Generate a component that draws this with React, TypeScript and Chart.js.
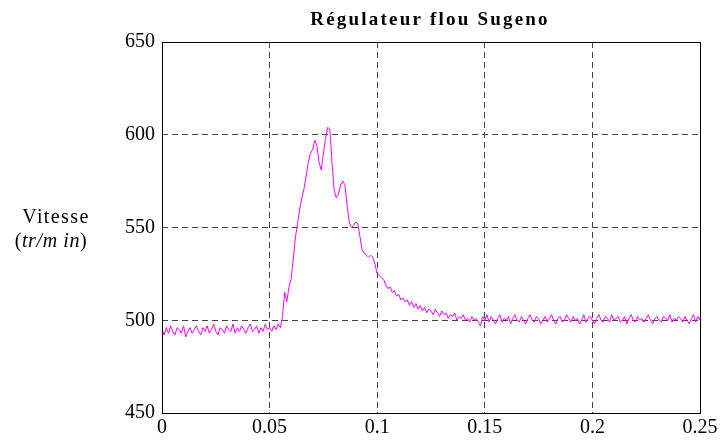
import React, { useEffect, useRef } from "react";
import { Chart, registerables } from "chart.js";

Chart.register(...registerables);

const titleText = "Régulateur flou Sugeno";
const yLabelLine1 = "Vitesse";
const xTickValues = [0, 0.05, 0.1, 0.15, 0.2, 0.25];
const xTickLabels = ["0", "0.05", "0.1", "0.15", "0.2", "0.25"];
const yTickValues = [450, 500, 550, 600, 650];
const yTickLabels = ["450", "500", "550", "600", "650"];

const timeStep = 0.001;
const speedValues = [
  495, 492, 496, 493, 497, 494, 492, 496, 495, 493,
  497, 491, 494, 496, 493, 495, 497, 494, 492, 496,
  494, 497, 493, 495, 498, 494, 492, 496, 495, 493,
  497, 495, 494, 498, 493, 496, 494, 497, 495, 493,
  496, 498, 494, 495, 497, 493, 496, 494, 498, 495,
  496, 494, 497, 495, 498, 496, 502, 515, 510, 518,
  522, 533, 545, 552, 560, 566, 571, 578, 585, 590,
  592, 597, 594, 585, 581, 590, 598, 604, 603, 585,
  570, 566, 568, 573, 575, 573, 562, 553, 550, 551,
  553, 552, 545, 538, 536, 535, 534, 535, 534, 530,
  525, 524, 523, 522, 519, 517, 518, 515, 516, 513,
  514, 511, 512, 510, 511, 508, 510, 507, 509, 506,
  508, 505, 507, 504, 506, 505, 503, 506, 504, 502,
  505, 503, 504, 501, 503, 502, 504, 500, 502, 501,
  503, 500, 501, 499, 502, 500, 501, 499, 497, 502,
  500, 503, 499, 502, 500, 498, 501, 503, 499, 501,
  500, 502, 498, 501, 503, 500, 499, 502, 500, 498,
  501, 503, 500, 499, 502, 501, 498, 500, 502, 499,
  501, 503, 500, 498, 501, 502, 499, 500, 503, 501,
  499, 502, 500, 501, 498, 500, 503, 499, 501, 502,
  500, 498, 501, 503, 500, 499, 502, 501, 499, 503,
  500, 501, 502, 499, 500, 502, 498, 501, 503, 500,
  499, 502, 500, 501, 499, 501, 503, 500, 498, 501,
  502, 500, 499, 502, 501, 500, 503, 499, 501, 500,
  502, 501, 499, 502, 500, 498, 501, 503, 499, 502,
  500,
];

const FONT = "'Liberation Serif', 'Times New Roman', serif";

export default function App() {
  const canvasRef = useRef<HTMLCanvasElement | null>(null);

  useEffect(() => {
    document.body.style.margin = "0";
    const canvas = canvasRef.current;
    if (!canvas) return;

    const points = speedValues.map((v, i) => ({ x: +(i * timeStep).toFixed(4), y: v }));

    const overlay = {
      id: "overlay",
      afterDraw(chart: any) {
        const { ctx, chartArea } = chart;
        const { left, right, top, bottom } = chartArea;
        ctx.save();
        ctx.setLineDash([]);
        ctx.strokeStyle = "#000";
        ctx.lineWidth = 1;
        ctx.strokeRect(Math.round(left) + 0.5, Math.round(top) + 0.5, Math.round(right - left), Math.round(bottom - top));

        // title
        ctx.fillStyle = "#000";
        ctx.font = `bold 19px ${FONT}`;
        (ctx as any).letterSpacing = "2.2px";
        ctx.textAlign = "center";
        ctx.textBaseline = "alphabetic";
        ctx.fillText(titleText, 430, 25);

        // y label line 1
        ctx.font = `20px ${FONT}`;
        (ctx as any).letterSpacing = "1.4px";
        ctx.fillText(yLabelLine1, 56, 223);
        (ctx as any).letterSpacing = "0.6px";

        // y label line 2: (tr/min)
        const parts = [
          { t: "(", it: false },
          { t: "tr/m in", it: true },
          { t: ")", it: false },
        ];
        let total = 0;
        const widths = parts.map((p) => {
          ctx.font = `${p.it ? "italic " : ""}20px ${FONT}`;
          const w = ctx.measureText(p.t).width;
          total += w;
          return w;
        });
        let x = 51 - total / 2;
        ctx.textAlign = "left";
        parts.forEach((p, i) => {
          ctx.font = `${p.it ? "italic " : ""}20px ${FONT}`;
          ctx.fillText(p.t, x, 247);
          x += widths[i];
        });
        (ctx as any).letterSpacing = "0px";
        ctx.restore();
      },
    };

    const chart = new Chart(canvas, {
      type: "line",
      data: {
        datasets: [
          {
            data: points,
            borderColor: "#ff00ff",
            borderWidth: 1,
            pointRadius: 0,
            fill: false,
            tension: 0,
          },
        ],
      },
      options: {
        animation: false,
        responsive: false,
        devicePixelRatio: 1,
        layout: { padding: { left: 0, right: 22, top: 42, bottom: 0 } },
        plugins: {
          legend: { display: false },
          tooltip: { enabled: false },
          title: { display: false },
        },
        scales: {
          x: {
            type: "linear",
            min: 0,
            max: 0.25,
            afterBuildTicks: (s: any) => {
              s.ticks = xTickValues.map((v) => ({ value: v }));
            },
            afterFit: (s: any) => {
              s.height = 30;
            },
            ticks: {
              callback: (_v: any, i: number) => xTickLabels[i],
              color: "#000",
              font: { family: FONT, size: 20 },
              padding: 3,
              maxRotation: 0,
              autoSkip: false,
            },
            grid: { color: "#444", lineWidth: 1, drawTicks: false },
            border: { display: false, dash: [6, 4] },
          },
          y: {
            type: "linear",
            min: 450,
            max: 650,
            afterBuildTicks: (s: any) => {
              s.ticks = yTickValues.map((v) => ({ value: v }));
            },
            afterFit: (s: any) => {
              s.width = 162;
            },
            ticks: {
              callback: (_v: any, i: number) => yTickLabels[i],
              color: "#000",
              font: { family: FONT, size: 20 },
              padding: 7,
              autoSkip: false,
            },
            grid: { color: "#444", lineWidth: 1, drawTicks: false },
            border: { display: false, dash: [6, 4] },
          },
        },
      },
      plugins: [overlay],
    });

    return () => chart.destroy();
  }, []);

  return (
    <div style={{ width: 722, height: 443 }}>
      <canvas ref={canvasRef} width={722} height={443} style={{ display: "block" }} />
    </div>
  );
}
